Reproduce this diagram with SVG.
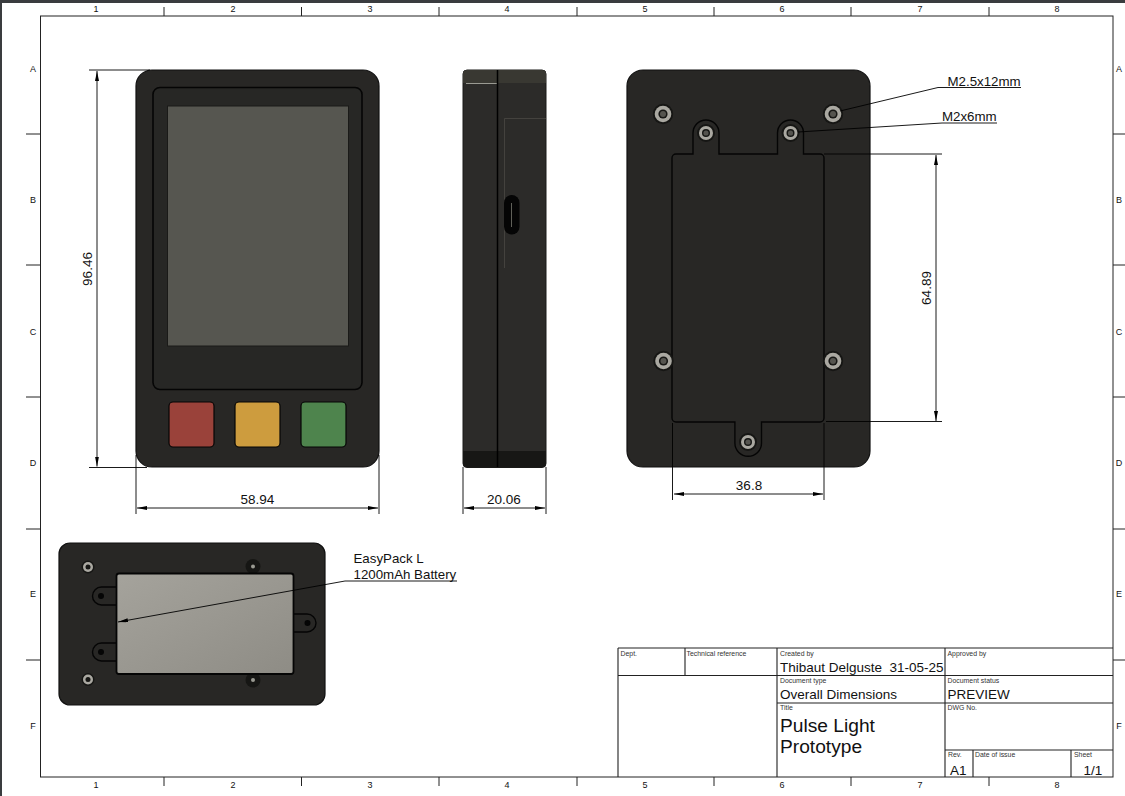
<svg xmlns="http://www.w3.org/2000/svg" width="1125" height="796" viewBox="0 0 1125 796">
<style>
text{font-family:"Liberation Sans",Arial,sans-serif;fill:#111}
.grid{font-size:9px;text-anchor:middle}
.dim{font-size:13.5px;text-anchor:middle}
.lab{font-size:13.3px}
.small{font-size:6.9px;fill:#333}
.mid{font-size:13.5px}
.big{font-size:19.2px}
.frame{fill:none;stroke:#222;stroke-width:1}
.tb{fill:none;stroke:#222;stroke-width:1.1}
.dl{fill:none;stroke:#000;stroke-width:.9}
.body{fill:#282725;stroke:#111;stroke-width:1.2}
.cut{fill:none;stroke:#050505;stroke-width:1.4}
.s1{fill:#161614}.s2{fill:#aaa8a1}.s3{fill:#55544f}
</style>
<defs>
<marker id="ah" viewBox="0 0 10 4" refX="10" refY="2" markerWidth="10" markerHeight="4" orient="auto-start-reverse" markerUnits="userSpaceOnUse"><path d="M0 0L10 2L0 4z" fill="#000"/></marker>
<linearGradient id="bat" x1="0" y1="0" x2="1" y2="1"><stop offset="0" stop-color="#a5a39c"/><stop offset="1" stop-color="#8e8c85"/></linearGradient>
<linearGradient id="dark" x1="0" y1="0" x2="1" y2="1"><stop offset="0" stop-color="#2c2b28"/><stop offset="1" stop-color="#1f1e1c"/></linearGradient>
<g id="screw"><circle r="10.200" class="s1"/><circle r="8.300" class="s2"/><circle r="4.600" class="s1"/><circle r="3" class="s3"/></g>
<g id="screwS"><circle r="9" class="s1"/><circle r="7" class="s2"/><circle r="4" class="s1"/><circle r="2.600" class="s3"/></g>
</defs>
<rect width="1125" height="796" fill="#fff"/>
<rect width="1125" height="3" fill="#3a3c3f"/>
<rect width="2" height="796" fill="#3a3c3f"/>

<g id="sheet-frame">
<rect class="frame" x="40.5" y="16" width="1072.5" height="761"/>
<path class="frame" d="M164 7V16M301.500 7V16M439 7V16M577 7V16M714 7V16M851 7V16M989 7V16M164 777V786M301.500 777V786M439 777V786M577 777V786M714 777V786M851 777V786M989 777V786M26 134H40.500M26 265H40.500M26 397H40.500M26 529H40.500M26 660H40.500M1113 134H1125M1113 265H1125M1113 397H1125M1113 529H1125M1113 660H1125"/>
<g class="grid">
<text x="96" y="12">1</text><text x="233" y="12">2</text><text x="370" y="12">3</text><text x="507" y="12">4</text><text x="645" y="12">5</text><text x="782" y="12">6</text><text x="920" y="12">7</text><text x="1057" y="12">8</text>
<text x="96" y="788">1</text><text x="233" y="788">2</text><text x="370" y="788">3</text><text x="507" y="788">4</text><text x="645" y="788">5</text><text x="782" y="788">6</text><text x="920" y="788">7</text><text x="1057" y="788">8</text>
<text x="33" y="72">A</text><text x="33" y="203">B</text><text x="33" y="335">C</text><text x="33" y="466">D</text><text x="33" y="597">E</text><text x="33" y="729">F</text>
<text x="1119" y="72">A</text><text x="1119" y="203">B</text><text x="1119" y="335">C</text><text x="1119" y="466">D</text><text x="1119" y="597">E</text><text x="1119" y="729">F</text>
</g>
</g>

<g id="front-view">
<rect class="body" x="136" y="70" width="243" height="397" rx="16" fill="url(#dark)"/>
<rect x="153" y="87.500" width="209" height="302" rx="7" fill="#272725" stroke="#050505" stroke-width="1.600"/>
<rect x="167.500" y="106" width="181" height="240" fill="#565650" stroke="#1a1a18" stroke-width="1"/>
<rect x="169" y="402" width="45" height="45" rx="4" fill="#9a423a" stroke="#050505" stroke-width="1.200"/>
<rect x="235" y="402" width="45" height="45" rx="4" fill="#cd9c3e" stroke="#050505" stroke-width="1.200"/>
<rect x="301" y="402" width="45" height="45" rx="4" fill="#4e844d" stroke="#050505" stroke-width="1.200"/>
</g>

<g id="side-view">
<rect x="463" y="70" width="83" height="397.500" rx="4" fill="#2c2b29" stroke="#1a1a18"/>
<path d="M463 83V74a4 4 0 0 1 4-4H542a4 4 0 0 1 4 4V83z" fill="#393832"/>
<path d="M463 451H546V463a4 4 0 0 1-4 4H467a4 4 0 0 1-4-4z" fill="#171715"/>
<path d="M466 83.500H497" stroke="#9a9a92" stroke-width="1"/>
<path d="M504.500 268V118.500H546" fill="none" stroke="#4a4944" stroke-width=".8"/>
<path d="M497.500 70V467" stroke="#000" stroke-width="1.500"/>
<rect x="504" y="195" width="15.500" height="39.500" rx="7.700" fill="#050505"/>
<path d="M511.500 203V227" stroke="#77776f" stroke-width=".8"/>
</g>

<g id="back-view">
<rect class="body" x="627" y="70" width="243" height="397" rx="16" fill="url(#dark)"/>
<path class="cut" d="M676 154H693V133a13 13 0 0 1 26 0V154H777.500V133a13 13 0 0 1 26 0V154H820a4 4 0 0 1 4 4V418a4 4 0 0 1-4 4H761.500V443a13.300 13.300 0 0 1-26.600 0V422H676a4 4 0 0 1-4-4V158a4 4 0 0 1 4-4z"/>
<use href="#screw" x="663" y="114"/>
<use href="#screw" x="833" y="114"/>
<use href="#screwS" x="706" y="133"/>
<use href="#screwS" x="790.500" y="133"/>
<use href="#screw" x="663.500" y="361"/>
<use href="#screw" x="833" y="361"/>
<use href="#screwS" x="748" y="442"/>
</g>

<g id="battery-view">
<rect class="body" x="59" y="543" width="266" height="162" rx="11" fill="url(#dark)"/>
<g class="s1"><circle cx="253" cy="566.500" r="7.500"/><circle cx="253" cy="680" r="7.500"/></g>
<path class="cut" d="M117 587H101.500a9 9 0 0 0 0 18H117M117 643H101.500a9 9 0 0 0 0 18H117M294 614H307a9 9 0 0 1 0 18H294"/>
<circle cx="101" cy="596" r="3" fill="#050505"/><circle cx="101" cy="652" r="3" fill="#050505"/><circle cx="307.500" cy="623" r="3" fill="#050505"/>
<circle cx="253" cy="566.500" r="2" fill="#9a9a92"/><circle cx="253" cy="680" r="2" fill="#9a9a92"/>
<circle cx="88" cy="567" r="6.500" class="s1"/><circle cx="88" cy="567" r="5" class="s2"/><circle cx="88" cy="567" r="2.500" class="s1"/>
<circle cx="88" cy="679.500" r="6.500" class="s1"/><circle cx="88" cy="679.500" r="5" class="s2"/><circle cx="88" cy="679.500" r="2.500" class="s1"/>
<rect x="116.500" y="573.500" width="177" height="100.500" rx="2.500" fill="url(#bat)" stroke="#050505" stroke-width="1.800"/>
</g>

<g id="connectors">
<path class="dl" d="M89 70H150M89 467.500H147"/>
<path class="dl" d="M97 71V466.500" marker-start="url(#ah)" marker-end="url(#ah)"/>
<path class="dl" d="M136 455V514M379 455V514M463 467V514M546 467V514"/>
<path class="dl" d="M137 508H378" marker-start="url(#ah)" marker-end="url(#ah)"/>
<path class="dl" d="M464 508H545" marker-start="url(#ah)" marker-end="url(#ah)"/>
<path class="dl" d="M824 154H942M826 421.500H942"/>
<path class="dl" d="M936 155V421" marker-start="url(#ah)" marker-end="url(#ah)"/>
<path class="dl" d="M672.500 423V500M824 423V500"/>
<path class="dl" d="M674 494H823" marker-start="url(#ah)" marker-end="url(#ah)"/>
<path class="dl" d="M1021 87.500H938L840 111" stroke-width="1"/>
<path class="dl" d="M997 123H942L798 132" stroke-width="1"/>
<path class="dl" d="M457 581H345L118 622" marker-end="url(#ah)"/>
</g>

<g id="labels">
<text class="dim" x="257.500" y="504">58.94</text>
<text class="dim" x="504" y="504">20.06</text>
<text class="dim" x="749" y="490">36.8</text>
<text class="dim" transform="translate(92 269) rotate(-90)">96.46</text>
<text class="dim" transform="translate(931 288) rotate(-90)">64.89</text>
<text class="lab" x="947.500" y="86">M2.5x12mm</text>
<text class="lab" x="942" y="121">M2x6mm</text>
<text class="lab" x="353.500" y="563">EasyPack L</text>
<text class="lab" x="353.500" y="579">1200mAh Battery</text>
</g>

<g id="title-block">
<path class="tb" d="M618 648H1113M618 675.500H1113M777 703H1113M945 750H1113M618 648V777M685 648V675.500M777 648V777M945 648V777M973 750V777M1071 750V777"/>
<text class="small" x="620.500" y="655.500">Dept.</text>
<text class="small" x="686.500" y="655.500">Technical reference</text>
<text class="small" x="780" y="655.500">Created by</text>
<text class="small" x="947.500" y="655.500">Approved by</text>
<text class="small" x="780" y="683">Document type</text>
<text class="small" x="947.500" y="683">Document status</text>
<text class="small" x="780" y="710">Title</text>
<text class="small" x="947.500" y="710">DWG No.</text>
<text class="small" x="948" y="757">Rev.</text>
<text class="small" x="975" y="757">Date of issue</text>
<text class="small" x="1074" y="757">Sheet</text>
<text class="mid" x="780" y="672" xml:space="preserve">Thibaut Delguste  31-05-25</text>
<text class="mid" x="780" y="699">Overall Dimensions</text>
<text class="mid" x="947.500" y="699">PREVIEW</text>
<text class="big" x="780" y="732">Pulse Light</text>
<text class="big" x="780" y="753">Prototype</text>
<text class="mid" x="950" y="774.500">A1</text>
<text class="mid" x="1083.500" y="774.500">1/1</text>
</g>
</svg>
